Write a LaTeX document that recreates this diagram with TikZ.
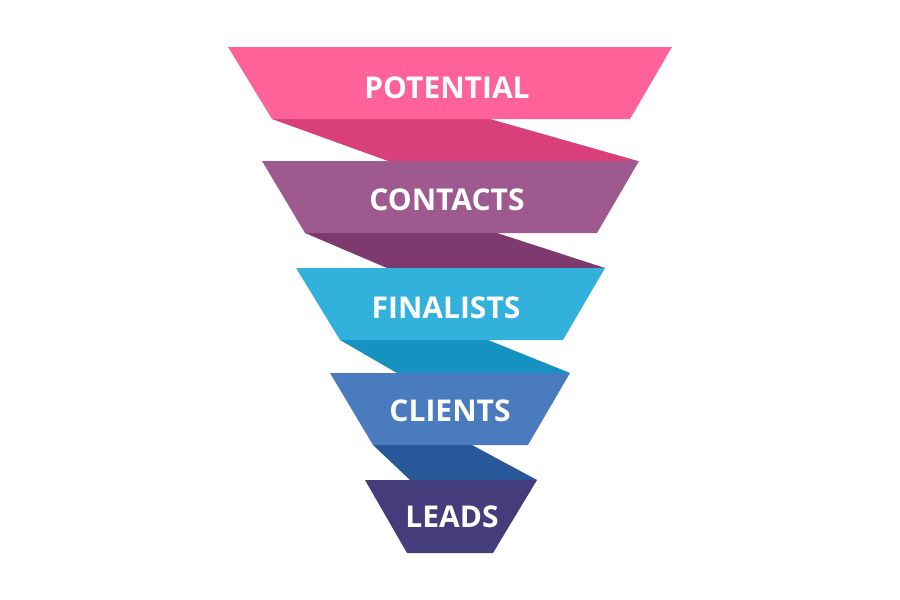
\documentclass[tikz,border=0pt]{standalone}
\usepackage{fontspec}
\setmainfont{Open Sans}
\definecolor{potcol}{HTML}{FF6199}
\definecolor{potband}{HTML}{D9407A}
\definecolor{concol}{HTML}{9E5A8E}
\definecolor{conband}{HTML}{7E3A6E}
\definecolor{fincol}{HTML}{33B1DD}
\definecolor{finband}{HTML}{1592BF}
\definecolor{clicol}{HTML}{4A7BBE}
\definecolor{cliband}{HTML}{28579A}
\definecolor{leadcol}{HTML}{453D7B}
\begin{document}
\begin{tikzpicture}[x=0.5pt,y=-0.5pt,
				stage/.style={draw=none},
				band/.style={draw=none},
				label/.style={text=white,font=\fontsize{15}{17}\selectfont\bfseries,inner sep=0pt}]
\useasboundingbox (0,0) rectangle (900,600);
% bands between the stages
\fill[band,potband] (272,119) -- (490,119) -- (638,161) -- (388,161) -- cycle;
\fill[band,conband] (305,233) -- (497,233) -- (605,268) -- (387,268) -- cycle;
\fill[band,finband] (340,340) -- (488,340) -- (570,373) -- (397,373) -- cycle;
\fill[band,cliband] (373,445) -- (472,445) -- (537,480) -- (410,480) -- cycle;
% stages
\fill[stage,potcol] (228,47) -- (672,47) -- (630,119) -- (272,119) -- cycle;
\fill[stage,concol] (262,161) -- (639,161) -- (597,233) -- (305,233) -- cycle;
\fill[stage,fincol] (296,268) -- (605,268) -- (563,340) -- (340,340) -- cycle;
\fill[stage,clicol] (330,373) -- (570,373) -- (528,445) -- (373,445) -- cycle;
\fill[stage,leadcol] (365,480) -- (537,480) -- (493,553) -- (407,553) -- cycle;
% labels
\node[label] (potential) at (447,88) {POTENTIAL};
\node[label] (contacts) at (447,200) {CONTACTS};
\node[label] (finalists) at (446,308) {FINALISTS};
\node[label] (clients) at (450,411) {CLIENTS};
\node[label] (leads) at (452,517) {LEADS};
\end{tikzpicture}
\end{document}
